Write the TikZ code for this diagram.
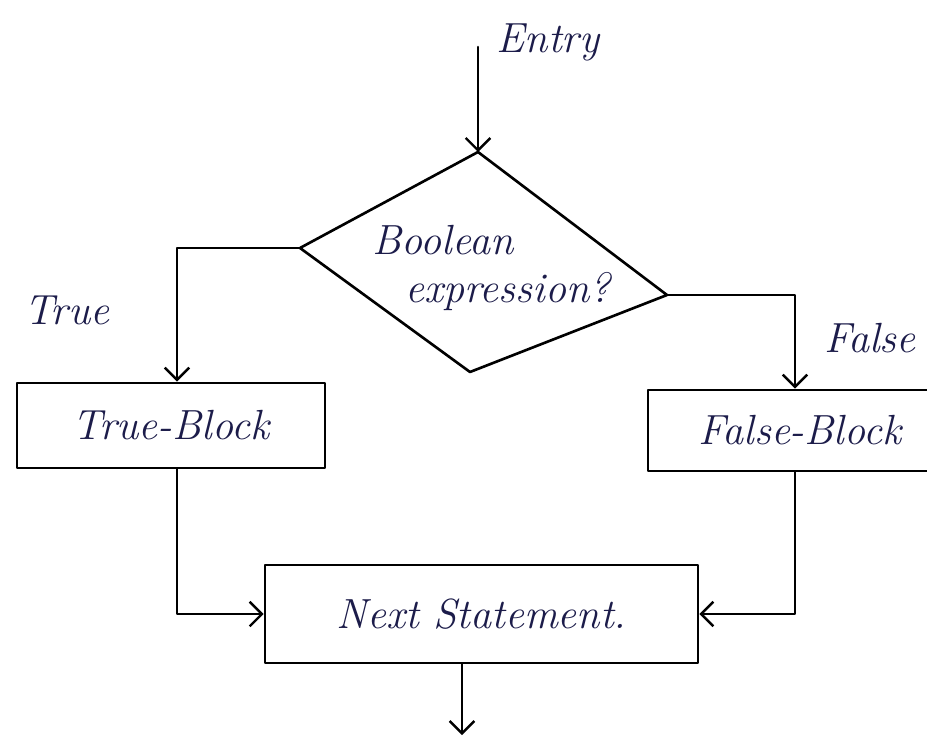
\documentclass[tikz,border=0pt]{standalone}
\usepackage{fontspec}
\usetikzlibrary{arrows.meta,calc}
\definecolor{ink}{HTML}{1C1C4A}
\tikzset{
  px/.style={x=0.02cm,y=-0.02cm},
  line/.style={line width=1.5pt,draw=black,line cap=round,line join=round},
  arr/.style={line, -{Straight Barb[length=7pt,width=14pt,line width=1.4pt]}},
  hand/.style={text=ink,font=\fontsize{24}{28}\selectfont\itshape,inner sep=0pt},
  blockbox/.style={line,inner sep=0pt,text=ink,font=\fontsize{24}{28}\selectfont\itshape}
}
\begin{document}
\begin{tikzpicture}[px]
\useasboundingbox (0,0) rectangle (927,737);
\fill[white] (0,0) rectangle (927,737);
\clip (0,0) rectangle (927,737);

% diamond corners
\coordinate (dt) at (478,152);
\coordinate (dl) at (300,248);
\coordinate (dr) at (667,295);
\coordinate (db) at (470,372);
\draw[line] (dt) -- (dr) -- (db) -- (dl) -- cycle;
\node[hand] (dtext1) at (443,240) {Boolean};
\node[hand] (dtext2) at (508,292) {expression?};

% entry
\coordinate (e0) at (478,47);
\draw[arr] (e0) -- (dt);
\node[hand] (entrylbl) at (548,42) {Entry};

% blocks
\node[blockbox,minimum width=6.16cm,minimum height=1.7cm] (tb) at (171,425.5) {True-Block};
\node[blockbox,minimum width=6.08cm,minimum height=1.62cm] (fb) at (800,430.5) {False-Block};
\node[blockbox,minimum width=8.66cm,minimum height=1.96cm] (ns) at (481.5,614) {Next Statement.};

% branch labels
\node[hand] (truelbl) at (67,310) {True};
\node[hand] (falselbl) at (870,338) {False};

% branch connectors
\coordinate (tl) at (177,248);
\coordinate (tr) at (795,295);
\draw[arr] (dl) -- (tl) -- (tl |- tb.north);
\draw[arr] (dr) -- (tr) -- (tr |- fb.north);

% merge connectors
\draw[arr] (tb.south -| tl) |- (ns.west);
\draw[arr] (fb.south -| tr) |- (ns.east);

% exit
\coordinate (out) at (462,735);
\draw[arr] (ns.south -| out) -- (out);
\end{tikzpicture}
\end{document}
